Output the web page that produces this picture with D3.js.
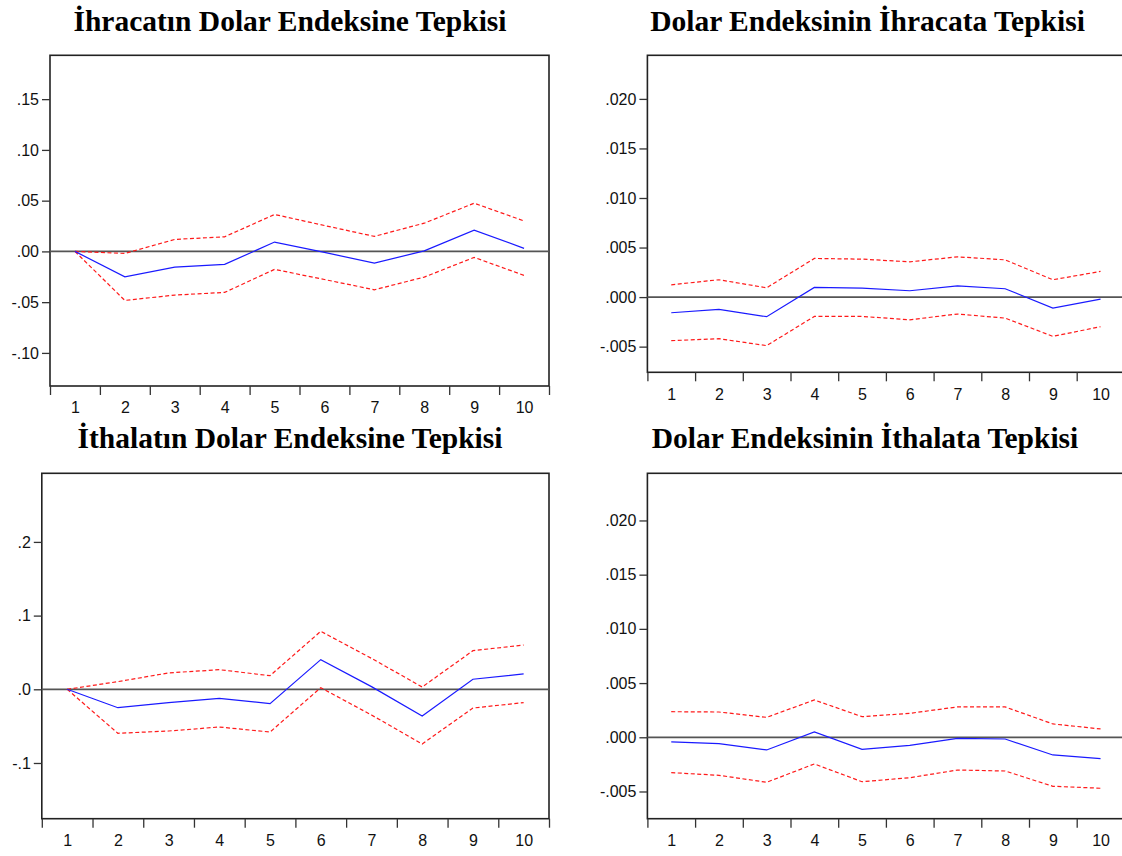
<!DOCTYPE html>
<html>
<head>
<meta charset="utf-8">
<script src="https://cdn.jsdelivr.net/npm/d3@7"></script>
<style>
  body { margin: 0; background: #fff; }
  svg { display: block; }
</style>
</head>
<body>
<svg id="chart" width="1122" height="856"></svg>
<script>
// impulse-response periods
var periods = [1, 2, 3, 4, 5, 6, 7, 8, 9, 10];

// Ihracatin Dolar Endeksine Tepkisi
var exportResp  = [0, -0.025, -0.0155, -0.0128, 0.0092, -0.001, -0.0115, 0.0005, 0.021, 0.003];
var exportUpper = [0, -0.002, 0.0118, 0.0144, 0.0364, 0.0255, 0.0148, 0.0278, 0.0475, 0.030];
var exportLower = [0, -0.0483, -0.043, -0.0404, -0.0177, -0.0277, -0.0378, -0.0253, -0.0059, -0.0236];

// Dolar Endeksinin Ihracata Tepkisi
var usdExpResp  = [-0.00158, -0.00124, -0.00198, 0.00098, 0.00091, 0.00064, 0.00114, 0.00084, -0.00111, -0.0002];
var usdExpUpper = [0.00124, 0.00175, 0.00094, 0.0039, 0.00383, 0.00356, 0.00406, 0.00376, 0.00175, 0.00259];
var usdExpLower = [-0.0044, -0.0042, -0.0049, -0.00195, -0.00195, -0.00229, -0.00171, -0.00212, -0.00396, -0.00299];

// Ithalatin Dolar Endeksine Tepkisi
var importResp  = [0, -0.025, -0.0181, -0.0122, -0.0195, 0.0402, 0.0036, -0.0362, 0.0136, 0.0208];
var importUpper = [0, 0.0104, 0.0222, 0.0266, 0.0185, 0.0787, 0.042, 0.0031, 0.0524, 0.0601];
var importLower = [0, -0.0597, -0.0566, -0.0512, -0.058, 0.0022, -0.0349, -0.0742, -0.0254, -0.0181];

// Dolar Endeksinin Ithalata Tepkisi
var usdImpResp  = [-0.00043, -0.00059, -0.00117, 0.00049, -0.00111, -0.00074, -0.0001, -0.00016, -0.00163, -0.00197];
var usdImpUpper = [0.00236, 0.00233, 0.00184, 0.00344, 0.0019, 0.00221, 0.0028, 0.0028, 0.00123, 0.00077];
var usdImpLower = [-0.00326, -0.00351, -0.00415, -0.00246, -0.0041, -0.00373, -0.00302, -0.00311, -0.00452, -0.0047];

var titles = [
    "İhracatın Dolar Endeksine Tepkisi",
    "Dolar Endeksinin İhracata Tepkisi",
    "İthalatın Dolar Endeksine Tepkisi",
    "Dolar Endeksinin İthalata Tepkisi"
];

var ticks1 = [-0.10, -0.05, 0, 0.05, 0.10, 0.15];
var ticks2 = [-0.005, 0, 0.005, 0.010, 0.015, 0.020];
var ticks3 = [-0.1, 0, 0.1, 0.2];
var ticks4 = [-0.005, 0, 0.005, 0.010, 0.015, 0.020];

var svg = d3.select("#chart");

function eviewsFormat(digits) {
    var f = d3.format("." + digits + "f");
    return function (v) {
        return f(v).replace("−", "-").replace("0.", ".");
    };
}

function drawPanel(p) {
    var x = d3.scaleLinear().domain([0.5, 10.5]).range([p.left, p.right]),
        y = d3.scaleLinear().domain(p.domain).range([p.bottom, p.top]);
    var g = svg.append("g");

    g.append("text")
        .attr("x", p.titleX)
        .attr("y", p.titleY)
        .attr("text-anchor", "middle")
        .style("font-family", "'Liberation Serif', 'Times New Roman', serif")
        .style("font-weight", "bold")
        .style("font-size", "29.5px")
        .text(p.title);

    // frame
    g.append("rect")
        .attr("x", p.left).attr("y", p.top)
        .attr("width", p.right - p.left).attr("height", p.bottom - p.top)
        .attr("fill", "none").attr("stroke", "#222").attr("stroke-width", 1.6);

    // y axis
    var yAxis = g.append("g")
        .attr("transform", "translate(" + p.left + ",0)")
        .call(d3.axisLeft(y).tickValues(p.ticks).tickSize(8).tickPadding(3).tickFormat(eviewsFormat(p.digits)));
    yAxis.select(".domain").remove();

    // x axis: boundary ticks and centred labels
    var bounds = d3.range(0.5, 11, 1);
    var xTicks = g.append("g")
        .attr("transform", "translate(0," + p.bottom + ")")
        .call(d3.axisBottom(x).tickValues(bounds).tickSize(9).tickFormat(""));
    xTicks.select(".domain").remove();
    var xLabels = g.append("g")
        .attr("transform", "translate(0," + p.bottom + ")")
        .call(d3.axisBottom(x).tickValues(periods).tickSize(0).tickPadding(16).tickFormat(d3.format("d")));
    xLabels.select(".domain").remove();

    g.selectAll(".tick text")
        .attr("fill", "#111")
        .style("font-family", "'Liberation Sans', Arial, sans-serif")
        .style("font-size", "16px");
    g.selectAll(".tick line").attr("stroke", "#333").attr("stroke-width", 1.3);

    // zero line
    g.append("line")
        .attr("x1", p.left).attr("x2", p.right)
        .attr("y1", y(0)).attr("y2", y(0))
        .attr("stroke", "#555").attr("stroke-width", 1.8);

    var line = d3.line()
        .x(function (d, i) { return x(periods[i]); })
        .y(function (d) { return y(d); });

    g.append("path").datum(p.upper).attr("d", line)
        .attr("fill", "none").attr("stroke", "#ff1a1a").attr("stroke-width", 1.2)
        .attr("stroke-dasharray", "4,2.5");
    g.append("path").datum(p.lower).attr("d", line)
        .attr("fill", "none").attr("stroke", "#ff1a1a").attr("stroke-width", 1.2)
        .attr("stroke-dasharray", "4,2.5");
    g.append("path").datum(p.resp).attr("d", line)
        .attr("fill", "none").attr("stroke", "#1a1aff").attr("stroke-width", 1.2);
}

var panels = [
    { title: titles[0], resp: exportResp, upper: exportUpper, lower: exportLower,
      ticks: ticks1, digits: 2, domain: [-0.1326, 0.1932],
      left: 50, right: 549, top: 55.3, bottom: 386, titleX: 290, titleY: 31 },
    { title: titles[1], resp: usdExpResp, upper: usdExpUpper, lower: usdExpLower,
      ticks: ticks2, digits: 3, domain: [-0.00759, 0.0244],
      left: 647.4, right: 1124.4, top: 55.3, bottom: 372.3, titleX: 867.5, titleY: 31 },
    { title: titles[2], resp: importResp, upper: importUpper, lower: importLower,
      ticks: ticks3, digits: 1, domain: [-0.1756, 0.2931],
      left: 41.8, right: 549, top: 473.3, bottom: 818.7, titleX: 290, titleY: 448 },
    { title: titles[3], resp: usdImpResp, upper: usdImpUpper, lower: usdImpLower,
      ticks: ticks4, digits: 3, domain: [-0.00751, 0.02435],
      left: 647.4, right: 1124.4, top: 473.3, bottom: 818.7, titleX: 865, titleY: 448 }
];

panels.forEach(drawPanel);
</script>
</body>
</html>
